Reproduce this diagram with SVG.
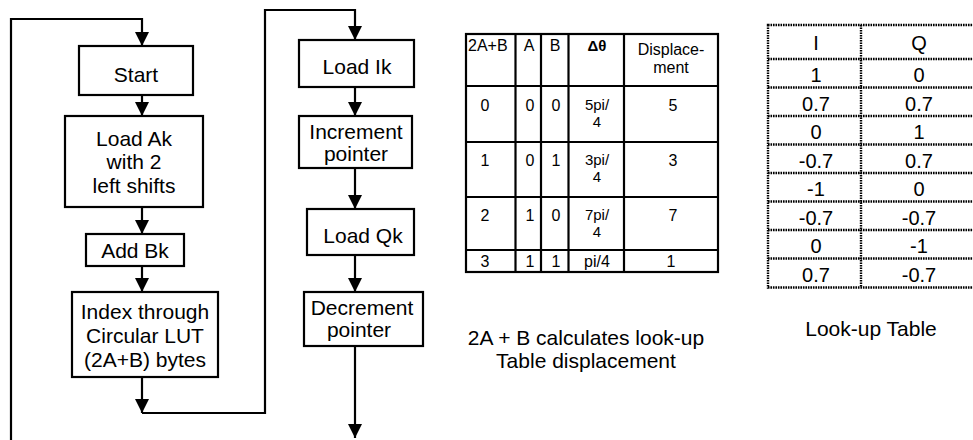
<svg xmlns="http://www.w3.org/2000/svg" width="973" height="440" viewBox="0 0 973 440">
<defs>
<marker id="ah" markerUnits="userSpaceOnUse" markerWidth="14" markerHeight="14" refX="14" refY="7" orient="auto">
<path d="M0,0 L14,7 L0,14 z" fill="#000"/>
</marker>
<style>
.box{fill:#fff;stroke:#000;stroke-width:2.2}
.t{font-family:"Liberation Sans",Arial,sans-serif;font-size:21px;fill:#000;text-anchor:middle}
.c{fill:none;stroke:#000;stroke-width:2.2}
.tl{fill:none;stroke:#000;stroke-width:2.2}
.tt{font-family:"Liberation Sans",Arial,sans-serif;font-size:16px;fill:#000;text-anchor:middle}
.ts{font-family:"Liberation Sans",Arial,sans-serif;font-size:15px;fill:#000;text-anchor:middle}
.dl{fill:none;stroke:#000;stroke-width:2.4;stroke-dasharray:1.6 0.9}
.lt{font-family:"Liberation Sans",Arial,sans-serif;font-size:20px;fill:#000;text-anchor:middle}
</style>
</defs>
<rect width="973" height="440" fill="#fff"/>

<g id="connectors">
<path class="c" d="M11,442 V19 H142 V46" marker-end="url(#ah)"/>
<path class="c" d="M142,95 V116" marker-end="url(#ah)"/>
<path class="c" d="M142,207 V234" marker-end="url(#ah)"/>
<path class="c" d="M142,266 V292" marker-end="url(#ah)"/>
<path class="c" d="M142,377 V413" marker-end="url(#ah)"/>
<path class="c" d="M142,413 H265 V10 H355 V40" marker-end="url(#ah)"/>
<path class="c" d="M355,87 V116" marker-end="url(#ah)"/>
<path class="c" d="M355,168 V209" marker-end="url(#ah)"/>
<path class="c" d="M355,255 V292" marker-end="url(#ah)"/>
<path class="c" d="M355,346 V438" marker-end="url(#ah)"/>
</g>

<g id="start">
<rect class="box" x="79" y="46" width="114" height="49"/>
<text class="t" x="136" y="81.5">Start</text>
</g>
<g id="load-ak">
<rect class="box" x="65" y="116" width="138" height="91"/>
<text class="t" x="134" y="146">Load Ak</text>
<text class="t" x="134" y="169">with 2</text>
<text class="t" x="134" y="193">left shifts</text>
</g>
<g id="add-bk">
<rect class="box" x="86" y="234" width="98" height="32"/>
<text class="t" x="135" y="257.5">Add Bk</text>
</g>
<g id="index">
<rect class="box" x="72" y="292" width="146" height="85"/>
<text class="t" x="145" y="318.5">Index through</text>
<text class="t" x="145" y="342.5">Circular LUT</text>
<text class="t" x="145" y="366.5">(2A+B) bytes</text>
</g>
<g id="load-ik">
<rect class="box" x="299" y="40" width="115" height="47"/>
<text class="t" x="357" y="74">Load Ik</text>
</g>
<g id="increment">
<rect class="box" x="299" y="116" width="113" height="52"/>
<text class="t" x="356" y="138.5">Increment</text>
<text class="t" x="356" y="160.5">pointer</text>
</g>
<g id="load-qk">
<rect class="box" x="307" y="209" width="107" height="46"/>
<text class="t" x="363" y="242.5">Load Qk</text>
</g>
<g id="decrement">
<rect class="box" x="304" y="292" width="119" height="54"/>
<text class="t" x="362" y="314.5">Decrement</text>
<text class="t" x="359" y="337">pointer</text>
</g>

<g id="displacement-table">
<rect class="tl" x="466" y="34" width="252" height="238"/>
<path class="tl" d="M515.5,34 V272 M541,34 V272 M568.5,34 V272 M624,34 V272 M466,86 H718 M466,142 H718 M466,197 H718 M466,250 H718"/>
<text class="tt" x="468" y="50.5" style="text-anchor:start">2A+B</text>
<text class="tt" x="529" y="50.5">A</text>
<text class="tt" x="555" y="50.5">B</text>
<text class="tt" x="597" y="50.5" style="font-weight:bold;font-size:15px">Δθ</text>
<text class="tt" x="671" y="55"><tspan x="671">Displace-</tspan><tspan x="671" dy="18">ment</tspan></text>

<text class="tt" x="485" y="110.5">0</text>
<text class="tt" x="530" y="110.5">0</text>
<text class="tt" x="556" y="110.5">0</text>
<text class="ts" x="597" y="109.5"><tspan x="597">5pi/</tspan><tspan x="597" dy="17">4</tspan></text>
<text class="tt" x="673" y="110.5">5</text>

<text class="tt" x="485" y="166">1</text>
<text class="tt" x="530" y="166">0</text>
<text class="tt" x="556" y="166">1</text>
<text class="ts" x="597" y="165"><tspan x="597">3pi/</tspan><tspan x="597" dy="17">4</tspan></text>
<text class="tt" x="673" y="166">3</text>

<text class="tt" x="485" y="221">2</text>
<text class="tt" x="530" y="221">1</text>
<text class="tt" x="556" y="221">0</text>
<text class="ts" x="597" y="220"><tspan x="597">7pi/</tspan><tspan x="597" dy="17">4</tspan></text>
<text class="tt" x="673" y="221">7</text>

<text class="tt" x="485" y="266.5">3</text>
<text class="tt" x="530" y="266.5">1</text>
<text class="tt" x="556" y="266.5">1</text>
<text class="tt" x="597" y="266.5">pi/4</text>
<text class="tt" x="671" y="266.5">1</text>
</g>

<g id="lookup-table">
<rect class="dl" x="768" y="25" width="212" height="262.5"/>
<path class="dl" d="M861,25 V287.5 M768,59 H980 M768,87.5 H980 M768,116 H980 M768,144.5 H980 M768,173 H980 M768,201.5 H980 M768,230 H980 M768,258.5 H980"/>
<text class="lt" x="816" y="50">I</text>
<text class="lt" x="919" y="50">Q</text>
<text class="lt" x="816" y="82">1</text><text class="lt" x="919" y="82">0</text>
<text class="lt" x="816" y="110.5">0.7</text><text class="lt" x="919" y="110.5">0.7</text>
<text class="lt" x="816" y="139">0</text><text class="lt" x="919" y="139">1</text>
<text class="lt" x="816" y="167.5">-0.7</text><text class="lt" x="919" y="167.5">0.7</text>
<text class="lt" x="816" y="196">-1</text><text class="lt" x="919" y="196">0</text>
<text class="lt" x="816" y="224.5">-0.7</text><text class="lt" x="919" y="224.5">-0.7</text>
<text class="lt" x="816" y="253">0</text><text class="lt" x="919" y="253">-1</text>
<text class="lt" x="816" y="281.5">0.7</text><text class="lt" x="919" y="281.5">-0.7</text>
</g>

<g id="captions">
<text class="t" x="586" y="344.5">2A + B calculates look-up</text>
<text class="t" x="586" y="367.5">Table displacement</text>
<text class="t" x="871" y="335.5">Look-up Table</text>
</g>
</svg>
